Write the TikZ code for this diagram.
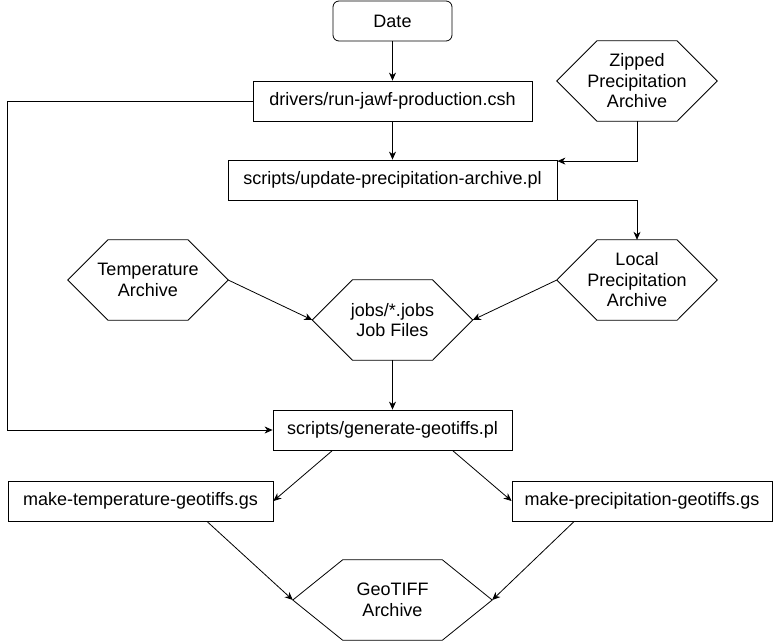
\documentclass[tikz,border=0pt]{standalone}
\usepackage{fontspec}
\setmainfont{Liberation Sans}
\usetikzlibrary{arrows.meta,calc}

\begin{document}
\begin{tikzpicture}[
    x=1pt,y=-1pt,
    every node/.style={font=\fontsize{18}{20.5}\selectfont,align=center,inner sep=0pt},
    line/.style={draw=black,line width=0.8pt},
    link/.style={line,-{Stealth[length=8pt,width=7pt,inset=2.5pt]}},
    box/.style={line,rectangle,minimum height=40pt},
    start/.style={box,rounded corners=6pt},
    hex/.style={rectangle,minimum width=160pt,minimum height=80pt,
        append after command={\pgfextra{\draw[line]
            (\tikzlastnode.west)
            -- ($(\tikzlastnode.north west)!0.25!(\tikzlastnode.north east)$)
            -- ($(\tikzlastnode.north west)!0.75!(\tikzlastnode.north east)$)
            -- (\tikzlastnode.east)
            -- ($(\tikzlastnode.south west)!0.75!(\tikzlastnode.south east)$)
            -- ($(\tikzlastnode.south west)!0.25!(\tikzlastnode.south east)$)
            -- cycle;}}},
]
    \useasboundingbox (0,0) rectangle (773,641);

    \node[start,minimum width=119pt] at (392.5,21) (date) {Date};
    \node[box,minimum width=279pt] at (392.5,101) (drv) {drivers/run-jawf-production.csh};
    \node[hex] at (637,81) (zip) {Zipped\\Precipitation\\Archive};
    \node[box,minimum width=329pt] at (392.5,180) (upd) {scripts/update-precipitation-archive.pl};
    \node[hex] at (148,280) (tmp) {Temperature\\Archive};
    \node[hex] at (637,280) (loc) {Local\\Precipitation\\Archive};
    \node[hex] at (392.5,320) (jobs) {jobs/*.jobs\\Job Files};
    \node[box,minimum width=239pt] at (392.5,430) (gen) {scripts/generate-geotiffs.pl};
    \node[box,minimum width=265pt] at (140.5,501) (mkt) {make-temperature-geotiffs.gs};
    \node[box,minimum width=260pt] at (642,501) (mkp) {make-precipitation-geotiffs.gs};
    \node[hex,minimum width=199pt] at (392.5,600) (geo) {GeoTIFF\\Archive};

    \coordinate (lft) at (7.5,101); % side line

    \draw[link] (date.south) -- (drv.north);
    \draw[link] (drv.south) -- (upd.north);
    \draw[link] (zip.south) |- ([yshift=-1.5pt]upd.north east);
    \draw[link] (upd.south east) -| (loc.north);
    \draw[link] (drv.west) -- (lft) |- (gen.west);

    \draw[link] (tmp.east) -- (jobs.west);
    \draw[link] (loc.west) -- (jobs.east);
    \draw[link] (jobs.south) -- (gen.north);

    \draw[link] ($(gen.south west)!0.25!(gen.south east)$) -- (mkt.east);
    \draw[link] ($(gen.south west)!0.75!(gen.south east)$) -- (mkp.west);
    \draw[link] ($(mkt.south west)!0.75!(mkt.south east)$) -- (geo.west);
    \draw[link] ($(mkp.south west)!0.24!(mkp.south east)$) -- (geo.east);

\end{tikzpicture}
\end{document}
